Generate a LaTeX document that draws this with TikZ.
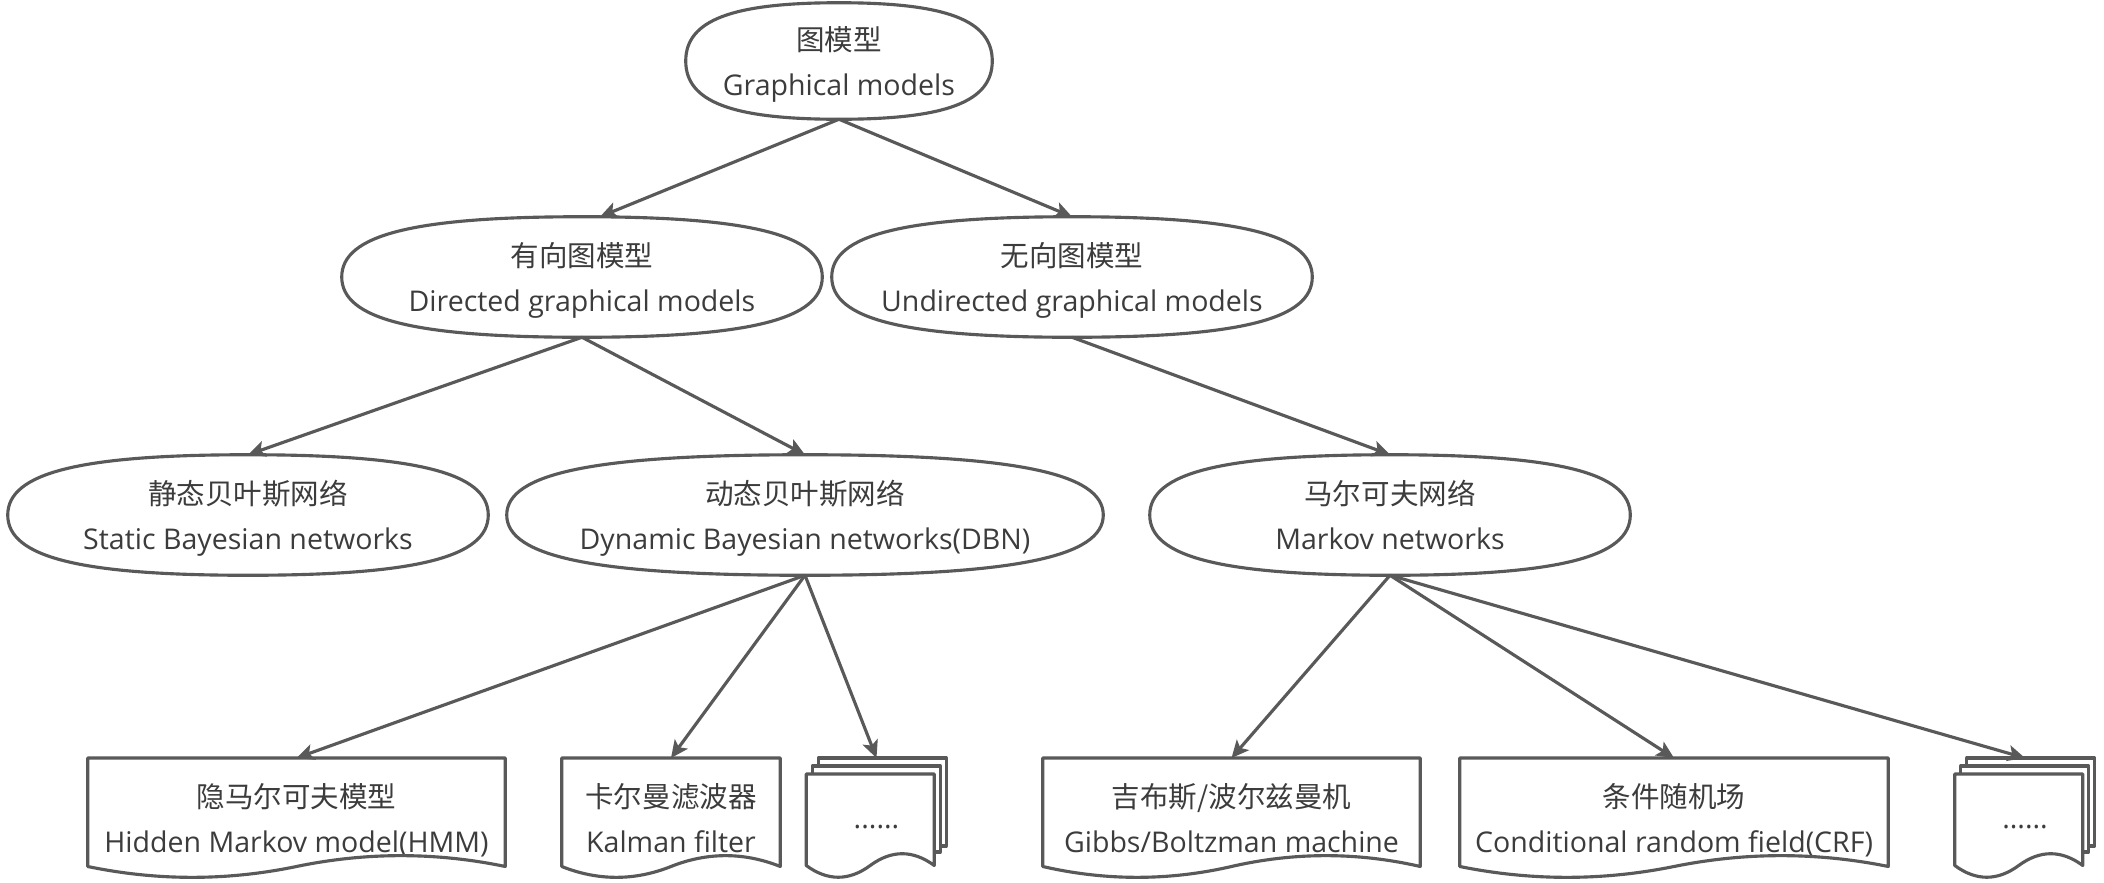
\documentclass[tikz,border=0pt]{standalone}
\usepackage{fontspec}
\setmainfont{Open Sans}
\newfontfamily\cjk{Noto Sans CJK SC}
\usetikzlibrary{calc,arrows.meta}
\definecolor{linegray}{HTML}{595959}
\definecolor{textgray}{HTML}{3C3C3C}
\newcommand\twolines[2]{{\cjk\rule{0pt}{1.06em}#1}\\#2\vphantom{g}}
\newcommand\drawblob[1]{\draw[shapeline] (#1.west)
  .. controls ($(#1.west)!0.7!(#1.north west)$) and ($(#1.north)!0.7!(#1.north west)$) .. (#1.north)
  .. controls ($(#1.north)!0.7!(#1.north east)$) and ($(#1.east)!0.7!(#1.north east)$) .. (#1.east)
  .. controls ($(#1.east)!0.7!(#1.south east)$) and ($(#1.south)!0.7!(#1.south east)$) .. (#1.south)
  .. controls ($(#1.south)!0.7!(#1.south west)$) and ($(#1.west)!0.7!(#1.south west)$) .. (#1.west) -- cycle;}
\newcommand\wavedoc[3]{\draw[shapeline] let \p1=(#1), \p2=(#2), \n1={\x2-\x1}, \n2={\y1-\y2} in
  (\x1,\y1) -- (\x2,\y1) -- (\x2,{\y1-(1-0.5*#3)*\n2})
  .. controls ({\x1+5/6*\n1},{\y1-(1-1.1*#3)*\n2}) and ({\x1+2/3*\n1},{\y1-(1-1.1*#3)*\n2}) .. ({\x1+0.5*\n1},{\y1-(1-0.5*#3)*\n2})
  .. controls ({\x1+1/3*\n1},{\y1-(1+0.1*#3)*\n2}) and ({\x1+1/6*\n1},{\y1-(1+0.1*#3)*\n2}) .. (\x1,{\y1-(1-0.5*#3)*\n2}) -- cycle;}
\newcommand\multidoc[1]{%
  \wavedoc{$(#1.north west)+(0,16)$}{$(#1.south west)+(128,0)$}{0.25}
  \draw[shapeline] ($(#1.north west)+(6,16)$) -- ($(#1.north west)+(6,8)$) -- ($(#1.north west)+(134,8)$) -- ($(#1.north west)+(134,94)$) -- ($(#1.north west)+(128,94)$);
  \draw[shapeline] ($(#1.north west)+(12,8)$) -- ($(#1.north west)+(12,0)$) -- ($(#1.north west)+(140,0)$) -- ($(#1.north west)+(140,88)$) -- ($(#1.north west)+(134,88)$);}
\tikzset{
  shapeline/.style={draw=linegray, line width=2.35pt, line join=round},
  conn/.style={draw=linegray, line width=2.35pt, -{Stealth[length=13pt,width=12pt,inset=3pt]}},
  labeltext/.style={rectangle, inner sep=0pt, align=center, text=textgray, font=\fontsize{21.4}{33.6}\selectfont},
  blob/.style={labeltext, minimum height=90pt, minimum width=360pt},
  doc/.style={labeltext, minimum height=90pt, anchor=north},
}
\begin{document}
\begin{tikzpicture}[x=0.75pt,y=-0.75pt]
\fill[white] (0,0) rectangle (2104,882);
\useasboundingbox (0,0) rectangle (2104,882);
% ellipse-like nodes
\node[blob, minimum width=229.5pt, minimum height=87pt] (gm) at (839,61) {\twolines{图模型}{Graphical models}};
\node[blob] (dir) at (582,277) {\twolines{有向图模型}{Directed graphical models}};
\node[blob] (undir) at (1072,277) {\twolines{无向图模型}{Undirected graphical models}};
\node[blob] (sbn) at (248,515) {\twolines{静态贝叶斯网络}{Static Bayesian networks}};
\node[blob, minimum width=447pt] (dbn) at (805,515) {\twolines{动态贝叶斯网络}{Dynamic Bayesian networks(DBN)}};
\node[blob] (mn) at (1390,515) {\twolines{马尔可夫网络}{Markov networks}};
\foreach \nd in {gm,dir,undir,sbn,dbn,mn} {\drawblob{\nd}}
% document nodes
\node[doc, minimum width=312.75pt] (hmm) at (296.5,758) {\twolines{隐马尔可夫模型}{Hidden Markov model(HMM)}};
\node[doc, minimum width=163.5pt] (kal) at (671,758) {\twolines{卡尔曼滤波器}{Kalman filter}};
\node[doc, minimum width=105pt] (md1) at (876.5,758) {\smash{\raisebox{-7.5pt}{......}}};
\node[doc, minimum width=282.75pt] (gib) at (1231.5,758) {\twolines{吉布斯/波尔兹曼机}{Gibbs/Boltzman machine}};
\node[doc, minimum width=321pt] (crf) at (1674,758) {\twolines{条件随机场}{Conditional random field(CRF)}};
\node[doc, minimum width=105pt] (md2) at (2025,758) {\smash{\raisebox{-7.5pt}{......}}};
\wavedoc{hmm.north west}{hmm.south east}{0.2}
\wavedoc{kal.north west}{kal.south east}{0.2}
\wavedoc{gib.north west}{gib.south east}{0.2}
\wavedoc{crf.north west}{crf.south east}{0.2}
\multidoc{md1}
\multidoc{md2}
% connectors
\draw[conn] (gm.south) -- ([xshift=13.5pt]dir.north);
\draw[conn] (gm.south) -- (undir.north);
\draw[conn] (dir.south) -- (sbn.north);
\draw[conn] (dir.south) -- (dbn.north);
\draw[conn] (undir.south) -- (mn.north);
\draw[conn] (dbn.south) -- (hmm.north);
\draw[conn] (dbn.south) -- (kal.north);
\draw[conn] (dbn.south) -- (md1.north);
\draw[conn] (mn.south) -- (gib.north);
\draw[conn] (mn.south) -- (crf.north);
\draw[conn] (mn.south) -- (md2.north);
\end{tikzpicture}
\end{document}
